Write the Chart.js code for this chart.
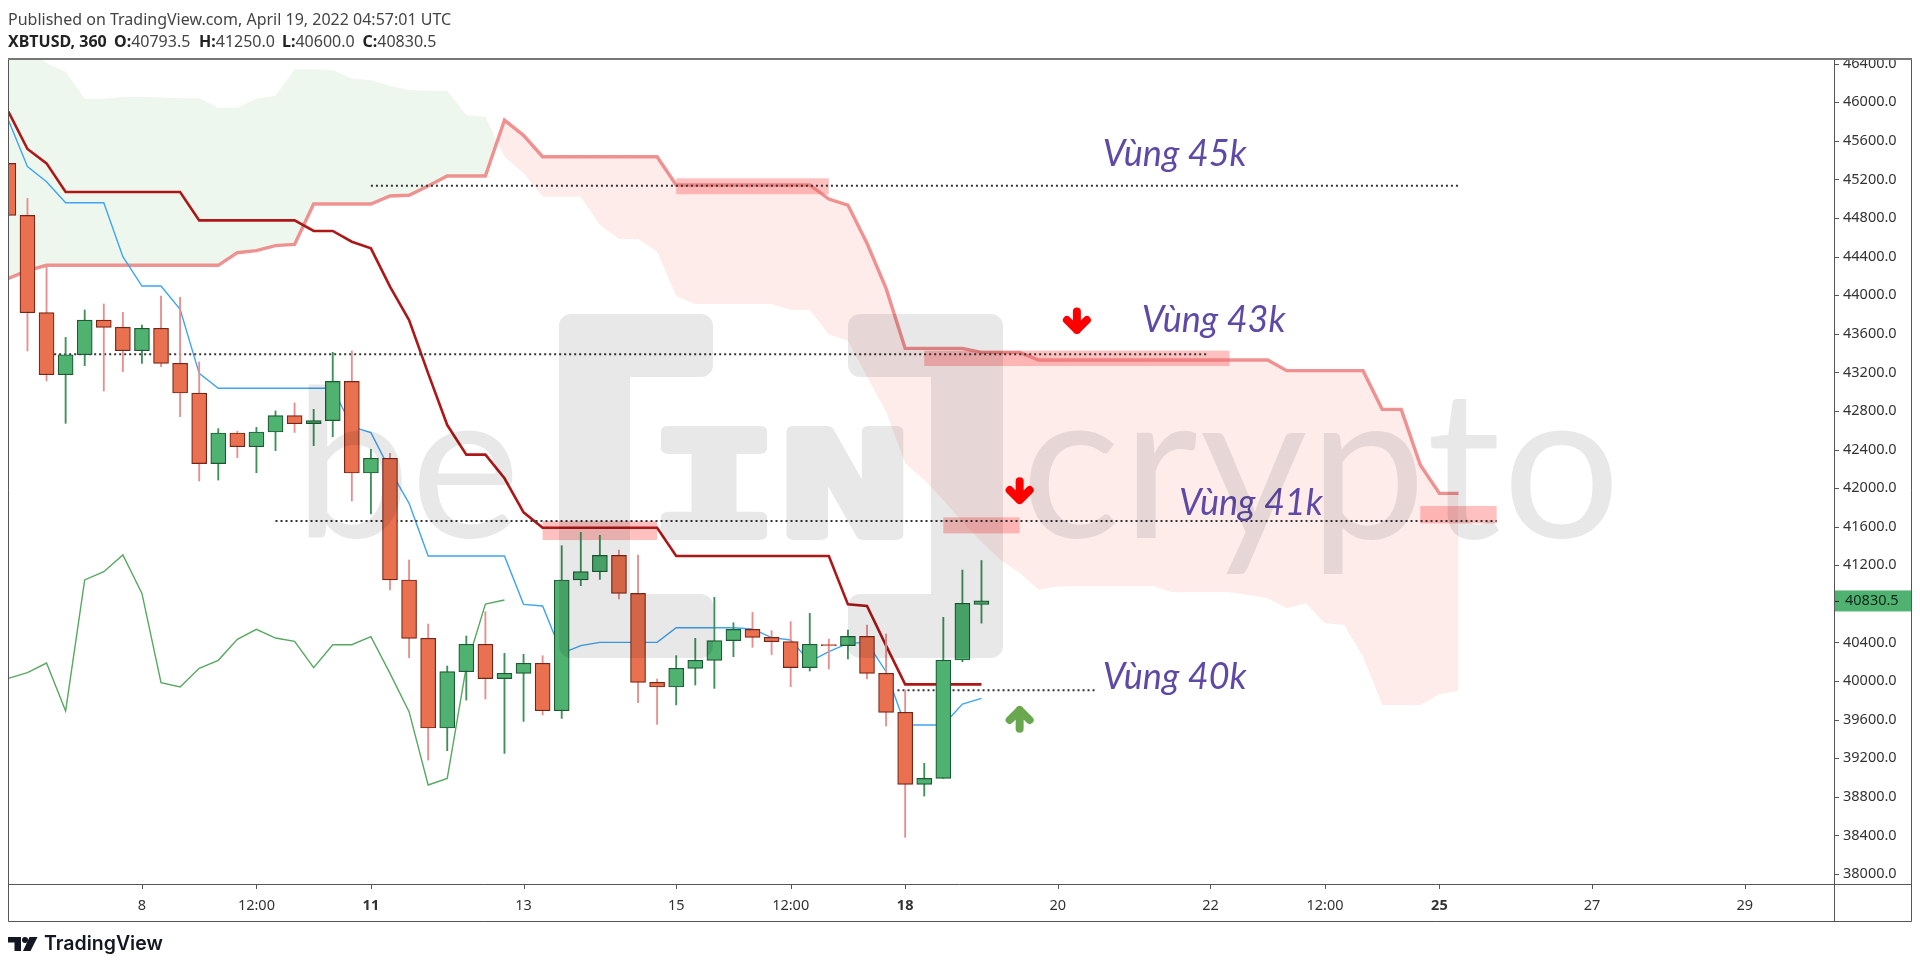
<!DOCTYPE html>
<html>
<head>
<meta charset="utf-8">
<title>XBTUSD</title>
<script src="https://cdn.jsdelivr.net/npm/chart.js@4"></script>
<style>
html, body { margin: 0; padding: 0; background: #fff; overflow: hidden; }
canvas { display: block; }
</style>
</head>
<body>
<canvas id="myChart" width="1920" height="964"></canvas>
<script>
// bar index 0 is the "8" tick, one index is a 6h candle
const firstBar = -7;

const candleOpen = [45367,44828,43819,43176,43383,43743,43667,43425,43657,43294,42986,42254,42572,42430,42582,42751,42668,42700,43107,42157,42309,41048,40443,39513,40097,40381,40025,40080,40184,39693,41048,41134,41303,40909,39987,39938,40132,40215,40419,40536,40453,40408,40139,40378,40367,40463,40080,39676,38929,38991,40218,40793.5];
const candleHigh = [45367,45004,44296,43563,43847,43909,43822,43691,43992,43978,43308,42617,42590,42630,42800,42883,42817,43408,43422,42402,42361,41255,40591,40156,40467,40719,40287,40277,40263,41403,41542,41511,41359,41307,40021,40263,40443,40868,40605,40712,40522,40616,40702,40436,40529,40581,40488,39907,39147,40661,41151,41250];
const candleLow = [44828,43422,43111,42672,43270,43007,43207,43294,43259,42741,42074,42084,42316,42160,42389,42578,42440,42533,41866,41733,40944,40242,39181,39278,39803,39814,39250,39582,39648,39613,40989,41054,40851,39776,39551,39752,39959,39924,40253,40350,40274,39942,40104,40125,40229,40021,39534,38380,38808,38991,40201,40600];
const candleClose = [44828,43819,43176,43383,43743,43667,43425,43657,43294,42986,42254,42572,42430,42582,42751,42668,42700,43107,42157,42309,41048,40443,39513,40097,40381,40025,40080,40184,39693,41048,41134,41303,40909,39987,39938,40132,40215,40419,40536,40453,40408,40139,40381,40367,40463,40080,39676,38929,38991,40218,40806,40830.5];

const kijun = [45903,45516,45367,45070,45070,45070,45070,45070,45070,45070,44776,44776,44776,44776,44776,44776,44666,44666,44555,44486,44089,43743,43190,42654,42347,42347,42102,41749,41590,41590,41590,41590,41590,41590,41590,41296,41296,41296,41296,41296,41296,41296,41296,41296,40795,40778,40367,39966,39966,39966,39966,39966];
const tenkan = [45816,45333,45177,44959,44959,44959,44400,44095,44095,43854,43190,43035,43035,43035,43035,43035,43035,43035,42637,42575,42188,41842,41296,41296,41296,41296,41296,40795,40778,40287,40367,40401,40401,40401,40401,40553,40553,40553,40553,40540,40450,40426,40201,40305,40391,40401,40097,39544,39544,39544,39762,39821];
const chikou = [40028,40087,40187,39690,41048,41134,41307,40909,39983,39938,40132,40215,40432,40536,40446,40412,40139,40377,40377,40460,40080,39683,38922,38991,40149,40799,40840];
const senkouA = [44175,44254,44310,44310,44310,44310,44310,44310,44310,44310,44310,44310,44441,44462,44514,44527,44946,44946,44946,44946,45029,45036,45132,45236,45236,45236,45816,45658,45436,45436,45436,45436,45436,45436,45436,45143,45143,45143,45143,45143,45143,45143,45143,44997,44935,44538,44071,43449,43449,43449,43449,43408,43408,43408,43328,43328,43328,43328,43328,43328,43328,43328,43328,43328,43328,43328,43328,43218,43218,43218,43218,43218,42817,42817,42240,41946,41946];
const senkouB = [46646,46611,46404,46318,46038,46038,46055,46055,46051,46041,46041,45944,45944,46038,46069,46342,46342,46335,46248,46228,46169,46127,46121,46121,45868,45851,45436,45264,45022,45022,45022,44728,44583,44583,44451,43992,43909,43909,43909,43909,43909,43847,43847,43594,43529,43155,42793,42257,42084,41877,41652,41445,41255,41124,40944,40979,40985,40985,40985,40985,40985,40920,40920,40920,40920,40892,40858,40754,40806,40598,40581,40253,39752,39752,39752,39862,39897];

const xTickValues = [0,6,12,20,28,34,40,48,56,62,68,76,84];
const xTickLabels = ['8','12:00','11','13','15','12:00','18','20','22','12:00','25','27','29'];
const xTickBold = ['11','18','25'];
const yTickValues = [46400,46000,45600,45200,44800,44400,44000,43600,43200,42800,42400,42000,41600,41200,40400,40000,39600,39200,38800,38400,38000];

const levelPrice = [45136,43387,41659,39904];
const levelFrom = [12,-4.6,7,39.6];
const levelTo = [69.05,55.9,71,50];

const zoneFrom = [28,41,21,42,67];
const zoneTo = [36,57,27,46,71];
const zoneTop = [45212,43425,41659,41697,41815];
const zoneBottom = [45046,43266,41462,41531,41635];

const arrowBar = [49,46,46];
const arrowTail = [43874,42112,39465];
const arrowTip = [43598,41835,39741];
const arrowColor = ['#ff0000','#ff0000','#6aa84f'];

const noteText = ['Vùng 45k','Vùng 43k','Vùng 41k','Vùng 40k'];
const noteBar = [50.36,52.4,54.35,50.36];
const notePrice = [45340,43619,41722,39918];

const quoteNames = ['O:','H:','L:','C:'];
const quoteValues = ['40793.5','41250.0','40600.0','40830.5'];

const lastClose = 40830.5;

const RED_FILL = '#e9714f', RED_EDGE = '#7a2415', RED_WICK = '#e58f90';
const GREEN_FILL = '#4fb271', GREEN_EDGE = '#1b5a33', GREEN_WICK = '#3f8f5a';
const AXIS_FONT = '"Noto Sans", sans-serif';

function toPoints(values) {
    return values.map((v, i) => ({ x: firstBar + i, y: v }));
}

function isUp(i) {
    return candleClose[i] >= candleOpen[i];
}

function levelDatasets() {
    return levelPrice.map((p, i) => ({
        type: 'line',
        data: [{ x: levelFrom[i], y: p }, { x: levelTo[i], y: p }],
        borderColor: '#333',
        borderWidth: 2,
        borderDash: [2, 3],
        pointRadius: 0,
        fill: false,
        order: 3
    }));
}

const zonesPlugin = {
    id: 'zones',
    beforeDatasetsDraw(chart) {
        const ctx = chart.ctx, x = chart.scales.x, y = chart.scales.y;
        ctx.save();
        ctx.fillStyle = 'rgba(255,80,80,0.36)';
        zoneFrom.forEach((from, i) => {
            const left = x.getPixelForValue(from), top = y.getPixelForValue(zoneTop[i]);
            ctx.fillRect(left, top, x.getPixelForValue(zoneTo[i]) - left, y.getPixelForValue(zoneBottom[i]) - top);
        });
        ctx.restore();
    }
};

function drawWatermark(chart) {
    // drawn solid on a spare canvas, then laid over the whole chart
    const off = document.createElement('canvas');
    off.width = chart.width;
    off.height = chart.height;
    const c = off.getContext('2d');
    c.fillStyle = '#000';
    c.strokeStyle = '#000';
    c.textBaseline = 'alphabetic';
    c.font = '208px Lato, sans-serif';
    c.fillText('be', 294, 538);
    c.letterSpacing = '2px';
    c.fillText('crypto', 1021, 538);
    c.letterSpacing = '0px';

    // brackets
    c.beginPath();
    c.roundRect(559, 314, 154, 63, 12);
    c.roundRect(559, 594, 154, 64, 12);
    c.roundRect(559, 320, 71, 330, 8);
    c.roundRect(848, 314, 155, 63, 12);
    c.roundRect(848, 594, 155, 64, 12);
    c.roundRect(931, 320, 72, 330, 8);
    c.fill('nonzero');

    // IN
    c.save();
    const stretch = 1.48;
    c.lineJoin = 'round';
    c.lineWidth = 10;
    c.textAlign = 'center';
    c.font = 'bold 142px "DejaVu Sans Mono", monospace';
    c.setTransform(stretch, 0, 0, 1, 0, 0);
    c.fillText('I', 714 / stretch, 535);
    c.strokeText('I', 714 / stretch, 535);
    c.fillText('N', 845 / stretch, 535);
    c.strokeText('N', 845 / stretch, 535);
    c.restore();

    const ctx = chart.ctx, area = chart.chartArea;
    ctx.save();
    ctx.beginPath();
    ctx.rect(area.left, area.top, area.right - area.left, area.bottom - area.top);
    ctx.clip();
    ctx.globalAlpha = 0.09;
    ctx.drawImage(off, 0, 0);
    ctx.restore();
}

function drawArrows(chart) {
    const ctx = chart.ctx, x = chart.scales.x, y = chart.scales.y;
    ctx.save();
    ctx.lineWidth = 8;
    ctx.lineCap = 'round';
    ctx.lineJoin = 'round';
    arrowBar.forEach((bar, i) => {
        const px = x.getPixelForValue(bar);
        const tail = y.getPixelForValue(arrowTail[i]);
        const tip = y.getPixelForValue(arrowTip[i]);
        const dir = tip > tail ? 1 : -1;
        const end = tip - dir * 4;
        ctx.strokeStyle = arrowColor[i];
        ctx.beginPath();
        ctx.moveTo(px, tail + dir * 4);
        ctx.lineTo(px, end);
        ctx.moveTo(px - 10, end - dir * 10);
        ctx.lineTo(px, end);
        ctx.lineTo(px + 10, end - dir * 10);
        ctx.stroke();
    });
    ctx.restore();
}

function drawNotes(chart) {
    const ctx = chart.ctx, x = chart.scales.x, y = chart.scales.y;
    ctx.save();
    ctx.fillStyle = '#5e4aa6';
    ctx.font = 'italic 36px Lato, sans-serif';
    ctx.textBaseline = 'alphabetic';
    noteText.forEach((t, i) => {
        ctx.fillText(t, x.getPixelForValue(noteBar[i]), y.getPixelForValue(notePrice[i]));
    });
    ctx.restore();
}

function drawFrame(chart) {
    const ctx = chart.ctx, a = chart.chartArea, sx = chart.scales.x, sy = chart.scales.y;
    const outerRight = 1911, outerBottom = 921;
    ctx.save();
    // 46400.0 is cut off by the top of the pane
    ctx.fillStyle = '#fff';
    ctx.fillRect(a.right + 1, 40, outerRight - a.right + 5, a.top - 40);
    ctx.strokeStyle = '#555';
    ctx.lineWidth = 1;
    ctx.beginPath();
    ctx.moveTo(a.left + 0.5, a.top);
    ctx.lineTo(a.left + 0.5, outerBottom + 0.5);
    ctx.lineTo(outerRight + 0.5, outerBottom + 0.5);
    ctx.lineTo(outerRight + 0.5, a.top);
    ctx.moveTo(a.right + 0.5, a.top);
    ctx.lineTo(a.right + 0.5, outerBottom);
    ctx.moveTo(a.left, a.bottom + 0.5);
    ctx.lineTo(outerRight, a.bottom + 0.5);
    // tick marks
    xTickValues.forEach(v => {
        const px = Math.round(sx.getPixelForValue(v)) + 0.5;
        ctx.moveTo(px, a.bottom);
        ctx.lineTo(px, a.bottom + 5);
    });
    yTickValues.forEach(v => {
        const py = Math.round(sy.getPixelForValue(v)) + 0.5;
        ctx.moveTo(a.right, py);
        ctx.lineTo(a.right + 5, py);
    });
    ctx.stroke();
    ctx.strokeStyle = '#777';
    ctx.lineWidth = 2;
    ctx.beginPath();
    ctx.moveTo(a.left, a.top);
    ctx.lineTo(outerRight + 1, a.top);
    ctx.stroke();
    ctx.restore();
}

function drawLastPrice(chart) {
    const ctx = chart.ctx, a = chart.chartArea;
    const py = chart.scales.y.getPixelForValue(lastClose);
    ctx.save();
    ctx.fillStyle = GREEN_FILL;
    ctx.fillRect(a.right + 1, py - 10.5, 76, 21);
    ctx.strokeStyle = '#222';
    ctx.beginPath();
    ctx.moveTo(a.right + 1, py + 0.5);
    ctx.lineTo(a.right + 5, py + 0.5);
    ctx.stroke();
    ctx.fillStyle = '#10261a';
    ctx.font = '14.5px ' + AXIS_FONT;
    ctx.textBaseline = 'middle';
    ctx.fillText(lastClose.toFixed(1), a.right + 11, py);
    ctx.restore();
}

function drawHeader(chart) {
    const ctx = chart.ctx;
    const quoteX = [114, 199, 282, 362.5];
    ctx.save();
    ctx.textBaseline = 'alphabetic';
    ctx.fillStyle = '#444';
    ctx.font = '16px ' + AXIS_FONT;
    ctx.fillText('Published on TradingView.com, April 19, 2022 04:57:01 UTC', 8, 25);
    ctx.font = 'bold 16px ' + AXIS_FONT;
    ctx.fillStyle = '#222';
    ctx.fillText('XBTUSD, 360', 8, 47);
    quoteNames.forEach((name, i) => {
        ctx.font = 'bold 16px ' + AXIS_FONT;
        ctx.fillStyle = '#222';
        ctx.fillText(name, quoteX[i], 47);
        const w = ctx.measureText(name).width;
        ctx.font = '16px ' + AXIS_FONT;
        ctx.fillStyle = '#444';
        ctx.fillText(quoteValues[i], quoteX[i] + w, 47);
    });
    ctx.restore();
}

function drawLogo(chart) {
    const ctx = chart.ctx;
    ctx.save();
    ctx.fillStyle = '#131722';
    ctx.fillRect(8, 937, 13, 5.5);
    ctx.fillRect(14.5, 937, 6.5, 14);
    ctx.beginPath();
    ctx.arc(25, 940, 3, 0, Math.PI * 2);
    ctx.fill();
    ctx.beginPath();
    ctx.moveTo(37.5, 937);
    ctx.lineTo(29.5, 937);
    ctx.lineTo(23, 951);
    ctx.lineTo(30.5, 951);
    ctx.closePath();
    ctx.fill();
    ctx.font = '600 19.5px Inter, sans-serif';
    ctx.textBaseline = 'alphabetic';
    ctx.fillText('TradingView', 44, 950);
    ctx.restore();
}

const overlayPlugin = {
    id: 'overlay',
    afterDraw(chart) {
        drawArrows(chart);
        drawNotes(chart);
        drawWatermark(chart);
        drawFrame(chart);
        drawLastPrice(chart);
        drawHeader(chart);
        drawLogo(chart);
    }
};

function initChart() {
    const ctx = document.getElementById('myChart').getContext('2d');
    const cloudTarget = 1;
    new Chart(ctx, {
        type: 'bar',
        data: {
            datasets: [
                {
                    type: 'line',
                    data: toPoints(senkouA),
                    borderColor: 'rgba(234,105,105,0.72)',
                    borderWidth: 3.4,
                    pointRadius: 0,
                    tension: 0,
                    fill: { target: cloudTarget, above: 'rgba(244,67,54,0.1)', below: 'rgba(76,175,80,0.1)' },
                    order: 7
                },
                {
                    type: 'line',
                    data: toPoints(senkouB),
                    borderColor: 'transparent',
                    borderWidth: 0,
                    pointRadius: 0,
                    fill: false,
                    order: 8
                },
                {
                    type: 'line',
                    data: toPoints(chikou),
                    borderColor: '#58a862',
                    borderWidth: 1.4,
                    pointRadius: 0,
                    fill: false,
                    order: 6
                },
                {
                    type: 'line',
                    data: toPoints(tenkan),
                    borderColor: '#3fa4f2',
                    borderWidth: 1.4,
                    pointRadius: 0,
                    fill: false,
                    order: 5
                },
                {
                    type: 'line',
                    data: toPoints(kijun),
                    borderColor: '#ad1717',
                    borderWidth: 2.6,
                    pointRadius: 0,
                    fill: false,
                    order: 4
                },
                ...levelDatasets(),
                {
                    label: 'wicks',
                    data: candleHigh.map((h, i) => ({ x: firstBar + i, y: [candleLow[i], h] })),
                    backgroundColor: candleOpen.map((o, i) => isUp(i) ? GREEN_WICK : RED_WICK),
                    barThickness: 1.2,
                    grouped: false,
                    order: 2
                },
                {
                    label: 'bodies',
                    data: candleOpen.map((o, i) => ({ x: firstBar + i, y: [o, candleClose[i]] })),
                    backgroundColor: candleOpen.map((o, i) => isUp(i) ? GREEN_FILL : RED_FILL),
                    borderColor: candleOpen.map((o, i) => isUp(i) ? GREEN_EDGE : RED_EDGE),
                    borderWidth: 1.2,
                    borderSkipped: false,
                    barThickness: 15,
                    grouped: false,
                    order: 1
                }
            ]
        },
        options: {
            responsive: false,
            devicePixelRatio: 1,
            animation: false,
            layout: { padding: { left: 8, top: 59, right: 9, bottom: 43 } },
            plugins: { legend: { display: false }, tooltip: { enabled: false }, title: { display: false } },
            scales: {
                x: {
                    type: 'linear',
                    offset: false,
                    min: -7.02,
                    max: 88.68,
                    afterBuildTicks(scale) {
                        scale.ticks = xTickValues.map(v => ({ value: v }));
                    },
                    afterFit(scale) {
                        scale.height = 37;
                    },
                    border: { display: false },
                    grid: { display: false },
                    ticks: {
                        autoSkip: false,
                        maxRotation: 0,
                        padding: 5,
                        color: '#333',
                        font: function(c) {
                            const label = c.tick ? xTickLabels[xTickValues.indexOf(c.tick.value)] : '';
                            return { family: AXIS_FONT, size: 14.5, weight: xTickBold.includes(label) ? 'bold' : 'normal' };
                        },
                        callback: function(value) {
                            return xTickLabels[xTickValues.indexOf(value)];
                        }
                    }
                },
                y: {
                    position: 'right',
                    min: 37896,
                    max: 46449,
                    afterBuildTicks(scale) {
                        scale.ticks = yTickValues.map(v => ({ value: v }));
                    },
                    afterFit(scale) {
                        scale.width = 77;
                    },
                    border: { display: false },
                    grid: { display: false },
                    ticks: {
                        autoSkip: false,
                        padding: 1,
                        color: '#333',
                        font: { family: AXIS_FONT, size: 14.5 },
                        callback: function(value) {
                            return value.toFixed(1);
                        }
                    }
                }
            }
        },
        plugins: [zonesPlugin, overlayPlugin]
    });
}

document.addEventListener('DOMContentLoaded', function() {
    initChart();
});
</script>
</body>
</html>
